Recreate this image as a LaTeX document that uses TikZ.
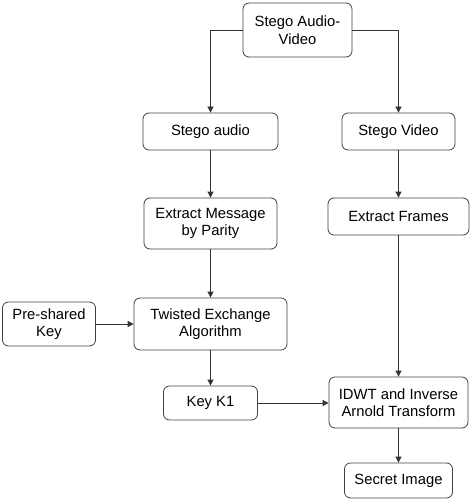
\documentclass[tikz,border=0pt]{standalone}
\usepackage{fontspec}
\setmainfont{Liberation Sans}
\usetikzlibrary{arrows.meta,positioning}

\begin{document}
\begin{tikzpicture}[
  x=1pt, y=-1pt,
  blk/.style={rectangle, draw=black!75, line width=0.8pt, rounded corners=6pt,
              align=center, inner sep=2pt, font=\fontsize{14.8}{17.5}\selectfont},
  arr/.style={-{Triangle[length=6pt,width=6pt]}, line width=0.8pt, black!80}
]
\useasboundingbox (0,0) rectangle (472,500);

\node[blk, minimum width=109pt, minimum height=54pt] (av) at (297.5,30) {Stego Audio-\\Video};

\node[blk, minimum width=135pt, minimum height=37pt] (sa) at (210.5,131.5) {Stego audio};
\node[blk, minimum width=113pt, minimum height=37pt] (sv) at (398.5,131.5) {Stego Video};

\node[blk, minimum width=133pt, minimum height=51pt] (em) at (210.5,223.5) {Extract Message\\by Parity};
\node[blk, minimum width=141pt, minimum height=37pt] (ef) at (398.5,216.5) {Extract Frames};

\node[blk, minimum width=153pt, minimum height=52pt] (tw) at (210.5,324) {Twisted Exchange\\Algorithm};
\node[blk, minimum width=93pt, minimum height=44pt] (pk) at (49,324) {Pre-shared\\Key};

\node[blk, minimum width=94pt, minimum height=34pt] (k1) at (210.5,403) {Key K1};
\node[blk, minimum width=139pt, minimum height=51pt] (iw) at (398.5,402.5) {IDWT and Inverse\\Arnold Transform};

\node[blk, minimum width=108pt, minimum height=35pt] (si) at (398.5,480.5) {Secret Image};

\draw[arr] (av.west) -| (sa.north);
\draw[arr] (av.east) -| (sv.north);

\draw[arr] (sa) -- (em);
\draw[arr] (sv) -- (ef);
\draw[arr] (em) -- (tw);
\draw[arr] (pk) -- (tw);
\draw[arr] (tw) -- (k1);
\draw[arr] (ef) -- (iw);
\draw[arr] (k1) -- (k1 -| iw.west);
\draw[arr] (iw) -- (si);
\end{tikzpicture}
\end{document}
